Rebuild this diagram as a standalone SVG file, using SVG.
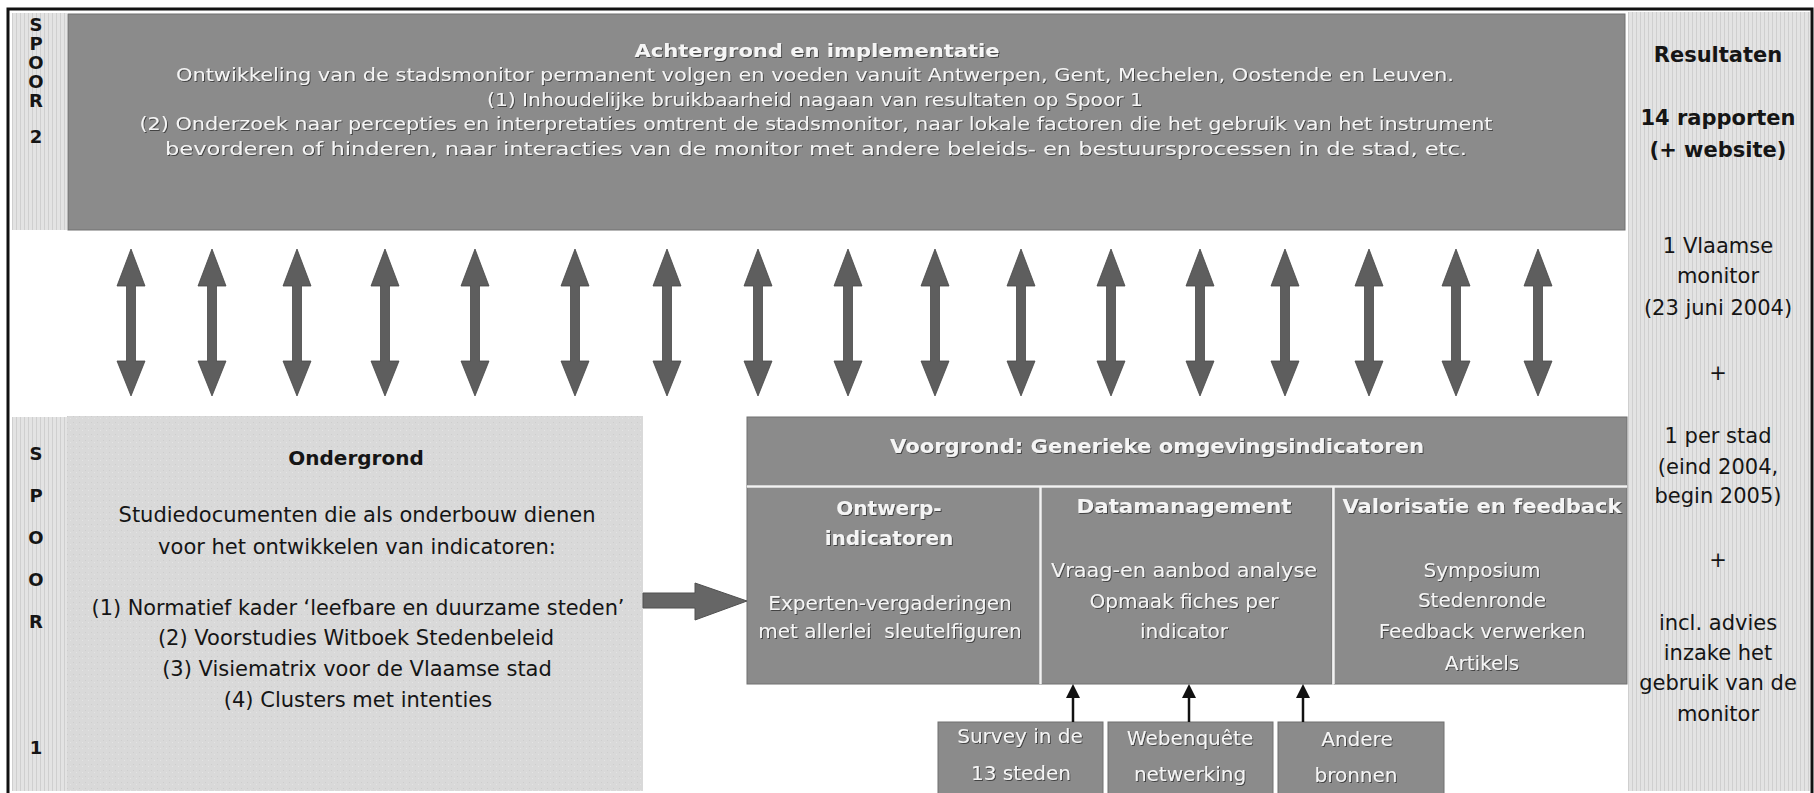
<svg xmlns="http://www.w3.org/2000/svg" width="1814" height="793" viewBox="0 0 1814 793">
<defs>
<pattern id="stripes" width="4" height="12" patternUnits="userSpaceOnUse">
<rect width="4" height="12" fill="#e3e3e3"/>
<rect width="1" height="12" fill="#cfcfcf"/>
</pattern>
<pattern id="speckle" width="6" height="6" patternUnits="userSpaceOnUse">
<rect width="6" height="6" fill="#d9d9d9"/>
<rect x="1" y="2" width="1" height="1" fill="#cdcdcd"/>
<rect x="4" y="4" width="1" height="1" fill="#e4e4e4"/>
</pattern>
<filter id="sh" x="-5%" y="-30%" width="110%" height="160%">
<feDropShadow dx="1" dy="1" stdDeviation="0.5" flood-color="#3a3a3a" flood-opacity="0.9"/>
</filter>
<path id="dbl" d="M0,249 L14,286 L4.5,286 L4.5,361 L14,361 L0,396 L-14,361 L-4.5,361 L-4.5,286 L-14,286 Z"/>
<marker id="ah" markerWidth="14" markerHeight="14" refX="7" refY="7" orient="auto" markerUnits="userSpaceOnUse">
<path d="M0,0 L14,7 L0,14 Z" fill="#111"/>
</marker>
</defs>
<style>
.t{font-family:"DejaVu Sans",Verdana,sans-serif;text-anchor:middle}
.w{fill:#f5f5f5;filter:url(#sh)}
.k{fill:#151515}
.dk{fill:#8b8b8b;stroke:#707070;stroke-width:1}
.lt{fill:url(#stripes)}
.sp{font-weight:bold;font-size:18px}
.top{font-size:18px}
.bd{font-weight:bold}
.f20{font-size:20px}
.f21{font-size:21px}
.dbl{fill:#5e5e5e;stroke:#474747;stroke-width:0.8}
.sm{stroke:#111;stroke-width:2.5;fill:none}
.sep{stroke:#f2f2f2;stroke-width:2.5}
</style>
<rect width="1814" height="793" fill="#ffffff"/>
<path d="M8,800 V9 H1812 V800" fill="none" stroke="#111" stroke-width="3"/>

<g id="spoor2">
<rect x="12" y="13" width="55" height="217" class="lt"/>
<text class="t k sp" x="36" y="31">S</text>
<text class="t k sp" x="36" y="50">P</text>
<text class="t k sp" x="36" y="69">O</text>
<text class="t k sp" x="36" y="88">O</text>
<text class="t k sp" x="36" y="107">R</text>
<text class="t k sp" x="36" y="143">2</text>
</g>

<g id="achtergrond">
<rect x="68" y="14" width="1557" height="216" class="dk"/>
<text class="t w bd" font-size="18.5" x="817" y="57" textLength="365" lengthAdjust="spacingAndGlyphs">Achtergrond en implementatie</text>
<text class="t w top" x="815" y="81" textLength="1278" lengthAdjust="spacingAndGlyphs">Ontwikkeling van de stadsmonitor permanent volgen en voeden vanuit Antwerpen, Gent, Mechelen, Oostende en Leuven.</text>
<text class="t w top" x="815" y="106" textLength="656" lengthAdjust="spacingAndGlyphs">(1) Inhoudelijke bruikbaarheid nagaan van resultaten op Spoor 1</text>
<text class="t w top" x="816" y="130" textLength="1353" lengthAdjust="spacingAndGlyphs">(2) Onderzoek naar percepties en interpretaties omtrent de stadsmonitor, naar lokale factoren die het gebruik van het instrument</text>
<text class="t w top" x="816" y="155" textLength="1302" lengthAdjust="spacingAndGlyphs">bevorderen of hinderen, naar interacties van de monitor met andere beleids- en bestuursprocessen in de stad, etc.</text>
</g>

<g id="resultaten">
<rect x="1628" y="12" width="182" height="779" class="lt"/>
<text class="t k bd f21" x="1718" y="62">Resultaten</text>
<text class="t k bd f21" x="1718" y="125">14 rapporten</text>
<text class="t k bd f21" x="1718" y="157">(+ website)</text>
<text class="t k f21" x="1718" y="253">1 Vlaamse</text>
<text class="t k f21" x="1718" y="283">monitor</text>
<text class="t k f21" x="1718" y="315">(23 juni 2004)</text>
<text class="t k f21" x="1718" y="380">+</text>
<text class="t k f21" x="1718" y="443">1 per stad</text>
<text class="t k f21" x="1718" y="474">(eind 2004,</text>
<text class="t k f21" x="1718" y="503">begin 2005)</text>
<text class="t k f21" x="1718" y="567">+</text>
<text class="t k f21" x="1718" y="630">incl. advies</text>
<text class="t k f21" x="1718" y="660">inzake het</text>
<text class="t k f21" x="1718" y="690">gebruik van de</text>
<text class="t k f21" x="1718" y="721">monitor</text>
</g>

<g id="spoor1">
<rect x="12" y="417" width="55" height="374" class="lt"/>
<text class="t k sp" x="36" y="460">S</text>
<text class="t k sp" x="36" y="502">P</text>
<text class="t k sp" x="36" y="544">O</text>
<text class="t k sp" x="36" y="586">O</text>
<text class="t k sp" x="36" y="628">R</text>
<text class="t k sp" x="36" y="754">1</text>
</g>

<g id="ondergrond">
<rect x="67" y="416" width="576" height="375" fill="url(#speckle)"/>
<text class="t k bd f20" x="356" y="465">Ondergrond</text>
<text class="t k f21" x="357" y="522">Studiedocumenten die als onderbouw dienen</text>
<text class="t k f21" x="357" y="554">voor het ontwikkelen van indicatoren:</text>
<text class="t k f21" x="358" y="615" textLength="533" lengthAdjust="spacingAndGlyphs">(1) Normatief kader ‘leefbare en duurzame steden’</text>
<text class="t k f21" x="356" y="645">(2) Voorstudies Witboek Stedenbeleid</text>
<text class="t k f21" x="357" y="676">(3) Visiematrix voor de Vlaamse stad</text>
<text class="t k f21" x="358" y="707">(4) Clusters met intenties</text>
</g>

<g id="voorgrond">
<rect x="747" y="417" width="880" height="69" class="dk"/>
<text class="t w bd f20" x="1157" y="453" textLength="534" lengthAdjust="spacingAndGlyphs">Voorgrond: Generieke omgevingsindicatoren</text>
</g>

<g id="ontwerp">
<rect x="747" y="487" width="293" height="197" class="dk"/>
<text class="t w bd f20" x="889" y="515">Ontwerp-</text>
<text class="t w bd f20" x="889" y="545">indicatoren</text>
<text class="t w f20" x="890" y="610">Experten-vergaderingen</text>
<text class="t w f20" x="890" y="638" xml:space="preserve">met allerlei  sleutelfiguren</text>
</g>

<g id="datamanagement">
<rect x="1041" y="487" width="291" height="197" class="dk"/>
<text class="t w bd f20" x="1184" y="513" textLength="215" lengthAdjust="spacingAndGlyphs">Datamanagement</text>
<text class="t w f20" x="1184" y="577" textLength="266" lengthAdjust="spacingAndGlyphs">Vraag-en aanbod analyse</text>
<text class="t w f20" x="1184" y="608">Opmaak fiches per</text>
<text class="t w f20" x="1184" y="638">indicator</text>
</g>

<g id="valorisatie">
<rect x="1334" y="487" width="293" height="197" class="dk"/>
<text class="t w bd f20" x="1482" y="513" textLength="279" lengthAdjust="spacingAndGlyphs">Valorisatie en feedback</text>
<text class="t w f20" x="1482" y="577">Symposium</text>
<text class="t w f20" x="1482" y="607">Stedenronde</text>
<text class="t w f20" x="1482" y="638">Feedback verwerken</text>
<text class="t w f20" x="1482" y="670">Artikels</text>
</g>

<g id="separators">
<line x1="747" y1="486.5" x2="1627" y2="486.5" class="sep"/>
<line x1="1040.5" y1="487" x2="1040.5" y2="684" class="sep"/>
<line x1="1333.5" y1="487" x2="1333.5" y2="684" class="sep"/>
</g>

<g id="survey">
<rect x="938" y="722" width="165" height="75" class="dk"/>
<text class="t w f20" x="1020" y="743">Survey in de</text>
<text class="t w f20" x="1021" y="780">13 steden</text>
</g>
<g id="webenquete">
<rect x="1108" y="722" width="165" height="75" class="dk"/>
<text class="t w f20" x="1190" y="745">Webenquête</text>
<text class="t w f20" x="1190" y="781">netwerking</text>
</g>
<g id="andere">
<rect x="1278" y="722" width="166" height="75" class="dk"/>
<text class="t w f20" x="1357" y="746">Andere</text>
<text class="t w f20" x="1356" y="782">bronnen</text>
</g>

<g id="connectors">
<use href="#dbl" x="131" class="dbl"/>
<use href="#dbl" x="212" class="dbl"/>
<use href="#dbl" x="297" class="dbl"/>
<use href="#dbl" x="385" class="dbl"/>
<use href="#dbl" x="475" class="dbl"/>
<use href="#dbl" x="575" class="dbl"/>
<use href="#dbl" x="667" class="dbl"/>
<use href="#dbl" x="758" class="dbl"/>
<use href="#dbl" x="848" class="dbl"/>
<use href="#dbl" x="935" class="dbl"/>
<use href="#dbl" x="1021" class="dbl"/>
<use href="#dbl" x="1111" class="dbl"/>
<use href="#dbl" x="1200" class="dbl"/>
<use href="#dbl" x="1285" class="dbl"/>
<use href="#dbl" x="1369" class="dbl"/>
<use href="#dbl" x="1456" class="dbl"/>
<use href="#dbl" x="1538" class="dbl"/>
<path d="M643,593 H695 V583 L747,601 L695,620 V608 H643 Z" fill="#666" stroke="#505050" stroke-width="1"/>
<line x1="1073" y1="722" x2="1073" y2="691" class="sm" marker-end="url(#ah)"/>
<line x1="1189" y1="722" x2="1189" y2="691" class="sm" marker-end="url(#ah)"/>
<line x1="1303" y1="722" x2="1303" y2="691" class="sm" marker-end="url(#ah)"/>
</g>
</svg>
